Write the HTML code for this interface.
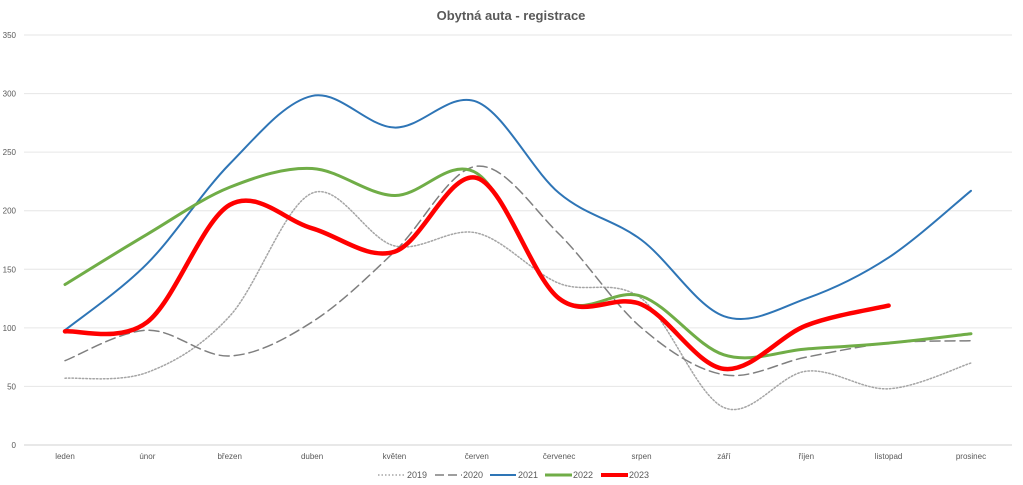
<!DOCTYPE html><html><head><meta charset="utf-8"><style>body{margin:0;background:#fff}svg{display:block;font-family:"Liberation Sans",sans-serif}</style></head><body>
<svg id="s" width="1023" height="485" xmlns="http://www.w3.org/2000/svg">
<text x="511" y="20" text-anchor="middle" font-size="13" font-weight="bold" fill="#595959">Obytná auta - registrace</text>
<g id="grid"></g>
<g id="lines"></g>
<g font-size="9" fill="#595959">
<line x1="378" y1="475" x2="404" y2="475" stroke="#a5a5a5" stroke-width="1.5" stroke-dasharray="1.5,2"/><text x="407" y="478">2019</text>
<line x1="435" y1="475" x2="462" y2="475" stroke="#7f7f7f" stroke-width="1.5" stroke-dasharray="9,4"/><text x="463" y="478">2020</text>
<line x1="490" y1="475" x2="516" y2="475" stroke="#2e75b6" stroke-width="2"/><text x="518" y="478">2021</text>
<line x1="545" y1="475" x2="572" y2="475" stroke="#70ad47" stroke-width="3"/><text x="573" y="478">2022</text>
<line x1="601" y1="475" x2="628" y2="475" stroke="#ff0000" stroke-width="4"/><text x="629" y="478">2023</text>
</g>
</svg>
<script>
const NS="http://www.w3.org/2000/svg";
const X=i=>65+i*82.36, Y=v=>445-v*1.1714;
const g=document.getElementById('grid');
let h='';
for(let v=0;v<=350;v+=50){const y=Y(v);h+=`<line x1="24" x2="1012" y1="${y}" y2="${y}" stroke="${v?'#e6e6e6':'#d0d0d0'}" stroke-width="1"/><text x="16" y="${y+3}" text-anchor="end" font-size="8" fill="#595959">${v}</text>`;}
const m=["leden","únor","březen","duben","květen","červen","červenec","srpen","září","říjen","listopad","prosinec"];
m.forEach((t,i)=>h+=`<text x="${X(i)}" y="459" text-anchor="middle" font-size="8" fill="#595959">${t}</text>`);
g.innerHTML=h;
function path(d){const p=d.map((v,i)=>[X(i),Y(v)]);let s=`M${p[0][0]},${p[0][1]}`;const t=1/6;
for(let i=0;i<p.length-1;i++){const p0=p[i-1]||p[i],p1=p[i],p2=p[i+1],p3=p[i+2]||p2;
s+=` C${p1[0]+(p2[0]-p0[0])*t},${p1[1]+(p2[1]-p0[1])*t} ${p2[0]-(p3[0]-p1[0])*t},${p2[1]-(p3[1]-p1[1])*t} ${p2[0]},${p2[1]}`;}return s;}
const S=[
[[57,62,110,215,170,181,138,125,32,63,48,70],'#a5a5a5',1.5,'1.5,2'],
[[72,98,76,105,165,238,180,100,60,75,87,89],'#7f7f7f',1.5,'10,5'],
[[98,155,240,298,271,293,215,175,110,125,160,217],'#2e75b6',2,''],
[[137,180,220,236,213,232,125,127,77,82,87,95],'#70ad47',3,''],
[[97,105,205,185,165,228,125,120,65,102,119],'#ff0000',4.5,'']];
let l='';S.forEach(([d,c,w,da])=>l+=`<path d="${path(d)}" fill="none" stroke="${c}" stroke-width="${w}" ${da?`stroke-dasharray="${da}"`:''} stroke-linecap="round"/>`);
document.getElementById('lines').innerHTML=l;
</script></body></html>
